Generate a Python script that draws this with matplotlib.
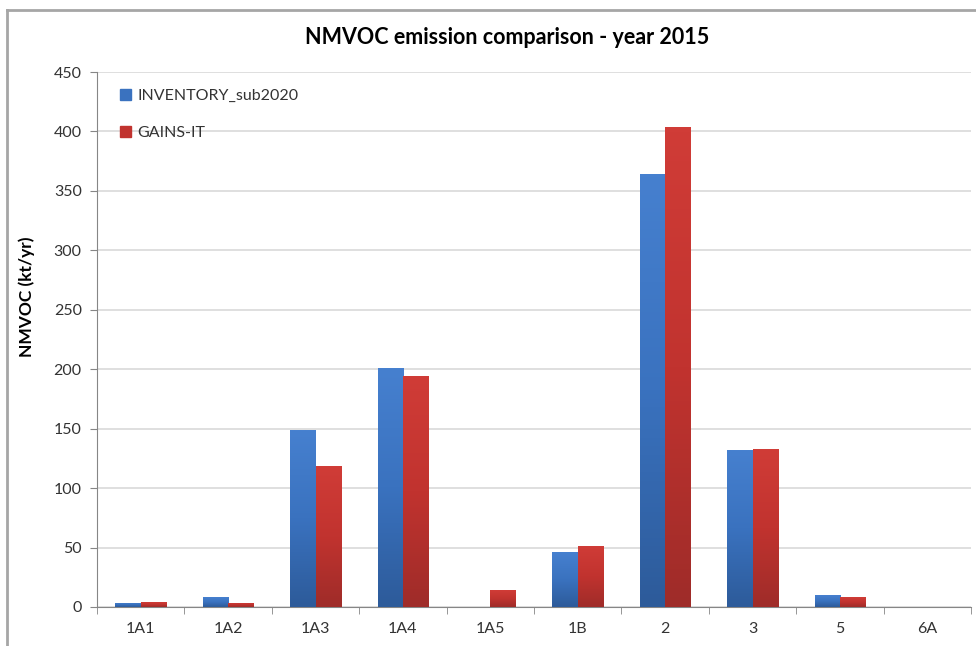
import numpy as np
import matplotlib
matplotlib.use("Agg")
from matplotlib import pyplot as plt
from matplotlib.colors import LinearSegmentedColormap
from matplotlib.lines import Line2D
import matplotlib.patches as mpatches

plt.rcParams['font.family'] = ['Lato', 'DejaVu Sans']

categories = ['1A1', '1A2', '1A3', '1A4', '1A5', '1B', '2', '3', '5', '6A']
inventory = [3.4, 8.4, 148.5, 201, 0, 46, 364.5, 132, 10, 0]
gains = [4.2, 3.5, 118.5, 194.5, 14, 51.5, 403.5, 132.5, 8.4, 0]

fig = plt.figure(figsize=(9.76, 6.46), dpi=100)
ax = fig.add_axes([0.0994, 0.0604, 0.8955, 0.8281])

x = np.arange(len(categories))
w = 0.29
bars_inv = ax.bar(x - w / 2, inventory, w, color='none', zorder=3)
bars_gai = ax.bar(x + w / 2, gains, w, color='none', zorder=3)

cm_blue = LinearSegmentedColormap.from_list('b', ['#2d5b9a', '#3a72bf', '#4680cf'])
cm_red = LinearSegmentedColormap.from_list('r', ['#9f2c29', '#c1332f', '#d03c37'])
grad = np.linspace(0, 1, 100).reshape(-1, 1)

# gradient fill, Excel style
for bars, cm in ((bars_inv, cm_blue), (bars_gai, cm_red)):
    for p in bars:
        h = p.get_height()
        if h <= 0:
            continue
        x0 = p.get_x()
        im = ax.imshow(grad, extent=[x0, x0 + p.get_width(), 0, h], origin='lower',
                       aspect='auto', cmap=cm, zorder=3)
        im.set_clip_path(p)

ax.set_xlim(-0.5, len(categories) - 0.5)
ax.set_ylim(0, 450)
ax.set_yticks(np.arange(0, 451, 50))
ax.yaxis.grid(True, color='#d9d9d9', linewidth=1.2, zorder=0)
ax.set_axisbelow(True)

ax.set_xticks(x)
ax.set_xticklabels(categories)
ax.set_xticks(np.arange(-0.5, len(categories), 1), minor=True)
ax.tick_params(axis='x', which='major', length=0, pad=11, labelsize=11.5, labelcolor='#333333')
ax.tick_params(axis='x', which='minor', length=5, color='#868686', direction='out')
ax.tick_params(axis='y', length=5, color='#868686', labelsize=11.5, labelcolor='#333333', pad=6)

for s in ('top', 'right'):
    ax.spines[s].set_visible(False)
ax.spines['left'].set_color('#868686')
ax.spines['bottom'].set_color('#868686')

handles = [mpatches.Patch(color='#3a72bf', label='INVENTORY_sub2020'),
           mpatches.Patch(color='#c1332f', label='GAINS-IT')]
ax.legend(handles=handles, loc='upper left', bbox_to_anchor=(0.01, 0.995), frameon=False,
          fontsize=11.5, handlelength=0.7, handleheight=0.7, handletextpad=0.4,
          labelspacing=1.4, labelcolor='#333333')

fig.text(0.52, 1 - 38 / 646, 'NMVOC emission comparison - year 2015', ha='center', va='center',
         fontsize=15.5, fontweight='bold', color='black')
fig.text(27 / 976, 1 - 297 / 646, 'NMVOC (kt/yr)', rotation=90, ha='center', va='center',
         fontsize=12.5, fontweight='bold', color='black')

# chart frame (cropped at right and bottom)
fig.add_artist(Line2D([7 / 976, 1], [1 - 10 / 646, 1 - 10 / 646], color='#a6a6a6', lw=2))
fig.add_artist(Line2D([7 / 976, 7 / 976], [0, 1 - 10 / 646], color='#a6a6a6', lw=2))

fig.savefig('out.png', dpi=100)
